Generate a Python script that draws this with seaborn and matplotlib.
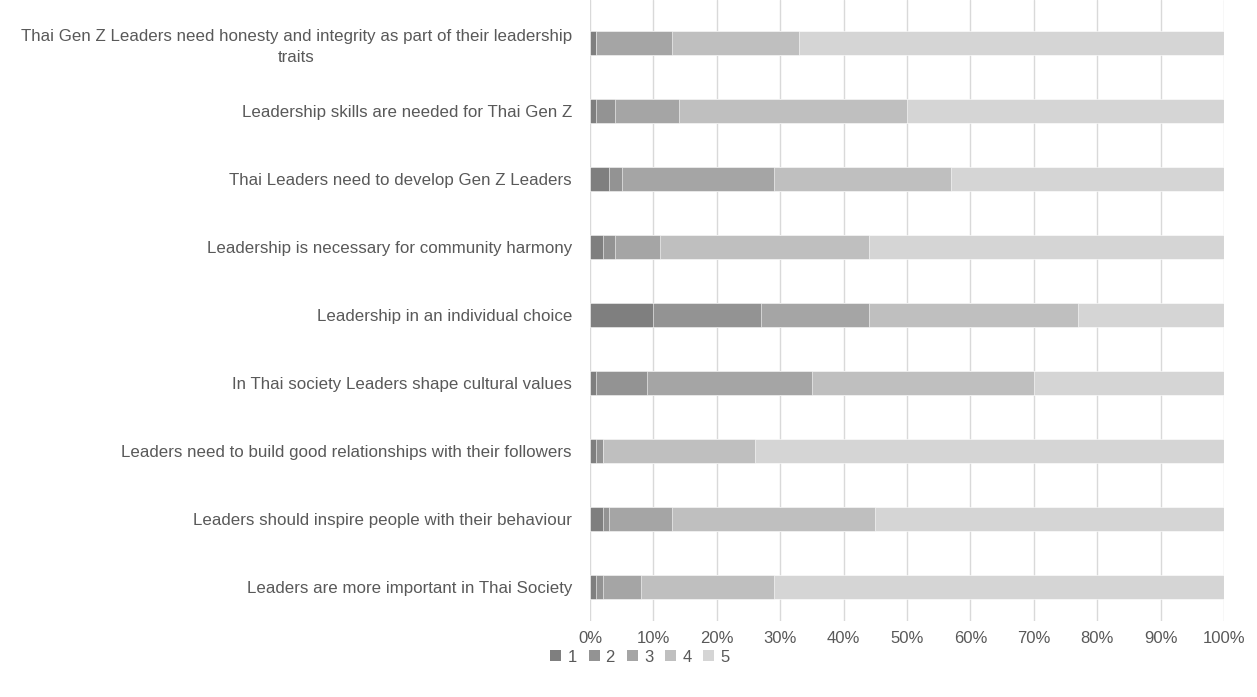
import matplotlib
matplotlib.use("Agg")
import matplotlib.pyplot as plt
from matplotlib.patches import Patch
from matplotlib.ticker import FuncFormatter
import numpy as np
import pandas as pd
import seaborn as sns

categories = [
    "Thai Gen Z Leaders need honesty and integrity as part of their leadership\ntraits",
    "Leadership skills are needed for Thai Gen Z",
    "Thai Leaders need to develop Gen Z Leaders",
    "Leadership is necessary for community harmony",
    "Leadership in an individual choice",
    "In Thai society Leaders shape cultural values",
    "Leaders need to build good relationships with their followers",
    "Leaders should inspire people with their behaviour",
    "Leaders are more important in Thai Society",
]
rating_1 = [1, 1, 3, 2, 10, 1, 1, 2, 1]
rating_2 = [0, 3, 2, 2, 17, 8, 1, 1, 1]
rating_3 = [12, 10, 24, 7, 17, 26, 0, 10, 6]
rating_4 = [20, 36, 28, 33, 33, 35, 24, 32, 21]
rating_5 = [67, 50, 43, 56, 23, 30, 74, 55, 71]
series_names = ["1", "2", "3", "4", "5"]
colors = ["#7f7f7f", "#939393", "#a5a5a5", "#bfbfbf", "#d5d5d5"]

series = [rating_1, rating_2, rating_3, rating_4, rating_5]
cum = np.cumsum(np.array(series, dtype=float), axis=0)

sns.set_theme(style="white")
plt.rcParams["font.family"] = ["Liberation Sans", "DejaVu Sans"]

fig = plt.figure(figsize=(12.57, 6.97), dpi=100)
ax = fig.add_axes([590 / 1257, 1 - 621 / 697, (1224 - 590) / 1257, 621 / 697])

for i in range(4, -1, -1):
    df = pd.DataFrame({"category": categories, "value": cum[i]})
    sns.barplot(data=df, x="value", y="category", order=categories, orient="h",
                color=colors[i], saturation=1, width=0.34, ax=ax,
                edgecolor="white", linewidth=0.4, zorder=3)

ax.set_xlim(0, 100)
ax.set_ylim(8.5, 8.5 - 621 / 68)
ax.set_xticks(np.arange(0, 101, 10))
ax.xaxis.set_major_formatter(FuncFormatter(lambda v, p: f"{int(v)}%"))
ax.grid(axis="x", color="#d9d9d9", linewidth=1)
ax.set_axisbelow(True)
for s in ax.spines.values():
    s.set_visible(False)
ax.set_xlabel("")
ax.set_ylabel("")
ax.tick_params(axis="x", length=0, pad=7, labelsize=12, labelcolor="#595959")
ax.tick_params(axis="y", length=0, pad=13, labelsize=12.2, labelcolor="#595959")
for lbl in ax.get_yticklabels():
    lbl.set_multialignment("center")
    lbl.set_linespacing(1.5)

handles = [Patch(facecolor=c, edgecolor="none", label=n) for c, n in zip(colors, series_names)]
fig.legend(handles=handles, loc="center", bbox_to_anchor=(640 / 1257, 1 - 657 / 697), ncol=5,
           frameon=False, fontsize=12, labelcolor="#595959", handlelength=0.66,
           handleheight=0.66, columnspacing=0.72, handletextpad=0.36)

fig.savefig("out.png", dpi=100)
